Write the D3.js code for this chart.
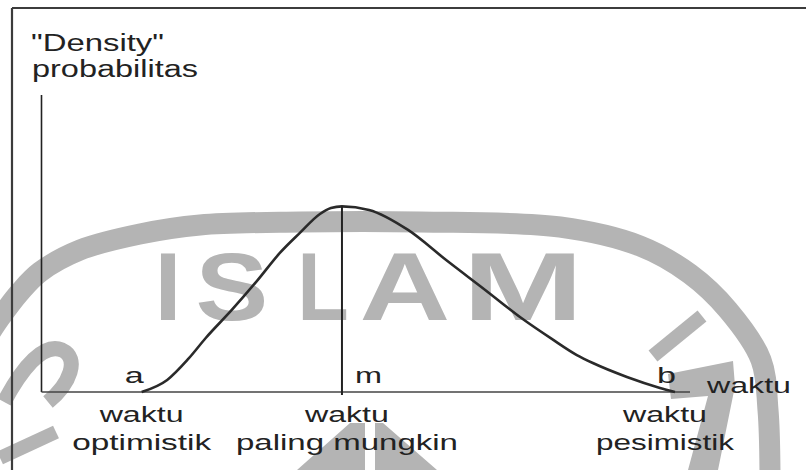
<!DOCTYPE html>
<html>
<head>
<meta charset="utf-8">
<script src="https://cdn.jsdelivr.net/npm/d3@7/dist/d3.min.js"></script>
<style>
  html, body { margin: 0; padding: 0; background: #fff; }
  svg { display: block; }
  text { font-family: "Liberation Sans", Arial, sans-serif; fill: #222; }
</style>
</head>
<body>
<svg id="chart" width="806" height="470"></svg>
<script>
// beta-like time distribution (PERT)
const timeValues = [2.0, 2.51, 2.93, 3.28, 3.80, 4.32, 4.76, 5.16, 5.56, 5.78, 6.0,
                    6.54, 7.32, 8.08, 8.86, 9.61, 10.19, 10.69, 11.01, 11.69, 12.35, 12.65];
const densityValues = [0, 0.065, 0.178, 0.291, 0.442, 0.604, 0.749, 0.857, 0.959, 0.991, 1.0,
                       0.981, 0.873, 0.711, 0.550, 0.393, 0.286, 0.199, 0.156, 0.081, 0.022, 0];

const pointNames = ['a', 'm', 'b'];
const pointTimes = [2.0, 6.0, 12.65];
const labelTop = ['waktu', 'waktu', 'waktu'];
const labelBottom = ['optimistik', 'paling mungkin', 'pesimistik'];
const yTitle = ['"Density"', 'probabilitas'];
const xTitle = 'waktu';
const watermarkLetters = ['I', 'S', 'L', 'A', 'M'];

// layout
const W = 806, H = 470;
const X0 = 41.5, X1 = 690, Y0 = 392, Y1 = 95;
const WM = '#b4b4b4';

const svg = d3.select('#chart');

const x = d3.scaleLinear().domain([0, 12.95]).range([X0, X1]);
const y = d3.scaleLinear().domain([0, 1.6]).range([Y0, Y1]);

// ---- watermark (background logo) ----
const wm = svg.append('g').attr('class', 'watermark');

const ringPts = [[-12, 336], [0, 318], [20, 292], [40, 272], [80, 250], [140, 234], [200, 225],
                 [300, 222], [420, 222], [560, 227], [640, 246], [690, 274], [728, 310],
                 [761, 360], [768, 410], [770, 475]];
wm.append('path')
    .attr('d', d3.line().curve(d3.curveCatmullRom)(ringPts))
    .attr('fill', 'none')
    .attr('stroke', WM)
    .attr('stroke-width', 21);

const letterX = [168, 232, 323, 405, 523];
const letterInk = [0, 65, 46, 81, 108];
wm.selectAll('text.wm')
    .data(watermarkLetters)
    .join('text')
    .attr('class', 'wm')
    .attr('x', (d, i) => letterX[i])
    .attr('y', 320)
    .attr('text-anchor', 'middle')
    .attr('font-size', 97)
    .attr('font-weight', 'bold')
    .style('fill', WM)
    .each(function(d, i) {
        if (letterInk[i]) {
            d3.select(this).attr('textLength', letterInk[i] * 1.12)
                .attr('lengthAdjust', 'spacingAndGlyphs');
        }
    })
    .text(d => d);

// other logo fragments
wm.append('line')
    .attr('x1', 653).attr('y1', 356).attr('x2', 702).attr('y2', 316)
    .attr('stroke', WM).attr('stroke-width', 14);
wm.append('path')
    .attr('d', 'M668,374 L733,361 L735,386 L718,470 L688,470 L708,396 L671,399 Z')
    .attr('fill', WM);
wm.append('path')
    .attr('d', 'M297,470 L350,423 L365,423 L365,470 Z M375,470 L375,423 L383,423 L437,470 Z')
    .attr('fill', WM);
wm.append('path')
    .attr('d', 'M4,402 C20,372 42,342 62,350 C80,358 70,384 48,402')
    .attr('fill', 'none').attr('stroke', WM).attr('stroke-width', 15);
wm.append('line')
    .attr('x1', 0).attr('y1', 458).attr('x2', 56).attr('y2', 432)
    .attr('stroke', WM).attr('stroke-width', 14);

// ---- frame ----
svg.append('path')
    .attr('d', `M12,8 H${W} M12,8 V${H}`)
    .attr('fill', 'none')
    .attr('stroke', '#3c3c3c')
    .attr('stroke-width', 2.2);

// ---- axes ----
svg.append('line')
    .attr('x1', x(0)).attr('x2', x(0))
    .attr('y1', y(0)).attr('y2', y(1.6))
    .attr('stroke', '#222').attr('stroke-width', 1.6);
svg.append('line')
    .attr('x1', x(0)).attr('x2', x(12.95))
    .attr('y1', y(0)).attr('y2', y(0))
    .attr('stroke', '#444').attr('stroke-width', 1.6);

// ---- curve ----
const curveData = timeValues.map((t, i) => [t, densityValues[i]]);
svg.append('path')
    .datum(curveData)
    .attr('d', d3.line().x(d => x(d[0])).y(d => y(d[1])).curve(d3.curveMonotoneX))
    .attr('fill', 'none')
    .attr('stroke', '#2a2a2a')
    .attr('stroke-width', 2.6);

// most likely time marker
const peak = d3.max(densityValues);
svg.append('line')
    .attr('x1', x(pointTimes[1])).attr('x2', x(pointTimes[1]))
    .attr('y1', y(peak)).attr('y2', y(0) + 3)
    .attr('stroke', '#222').attr('stroke-width', 2);

// ---- text ----
function fit(sel, len) {
    sel.attr('textLength', len).attr('lengthAdjust', 'spacingAndGlyphs');
}

// y title
const titleX = [31, 32], titleY = [51, 77], titleLen = [133, 166];
yTitle.forEach((t, i) => {
    svg.append('text')
        .attr('x', titleX[i]).attr('y', titleY[i])
        .attr('font-size', 23)
        .call(fit, titleLen[i])
        .text(t);
});

// point letters a, m, b
const letterOff = [-17, 13, -18], letterLen = [19, 27, 19];
pointNames.forEach((p, i) => {
    svg.append('text')
        .attr('x', x(pointTimes[i]) + letterOff[i])
        .attr('y', 383)
        .attr('font-size', 22)
        .call(fit, letterLen[i])
        .text(p);
});

// x title
svg.append('text')
    .attr('x', 707).attr('y', 393)
    .attr('font-size', 22)
    .call(fit, 84)
    .text(xTitle);

// labels under the axis
const labelShift = [0, 5, -10];
const bottomLen = [139, 222, 138];
pointNames.forEach((p, i) => {
    const cx = x(pointTimes[i]) + labelShift[i];
    svg.append('text')
        .attr('x', cx).attr('y', 422)
        .attr('text-anchor', 'middle')
        .attr('font-size', 22)
        .call(fit, 84)
        .text(labelTop[i]);
    svg.append('text')
        .attr('x', cx).attr('y', 450)
        .attr('text-anchor', 'middle')
        .attr('font-size', 22)
        .call(fit, bottomLen[i])
        .text(labelBottom[i]);
});
</script>
</body>
</html>
